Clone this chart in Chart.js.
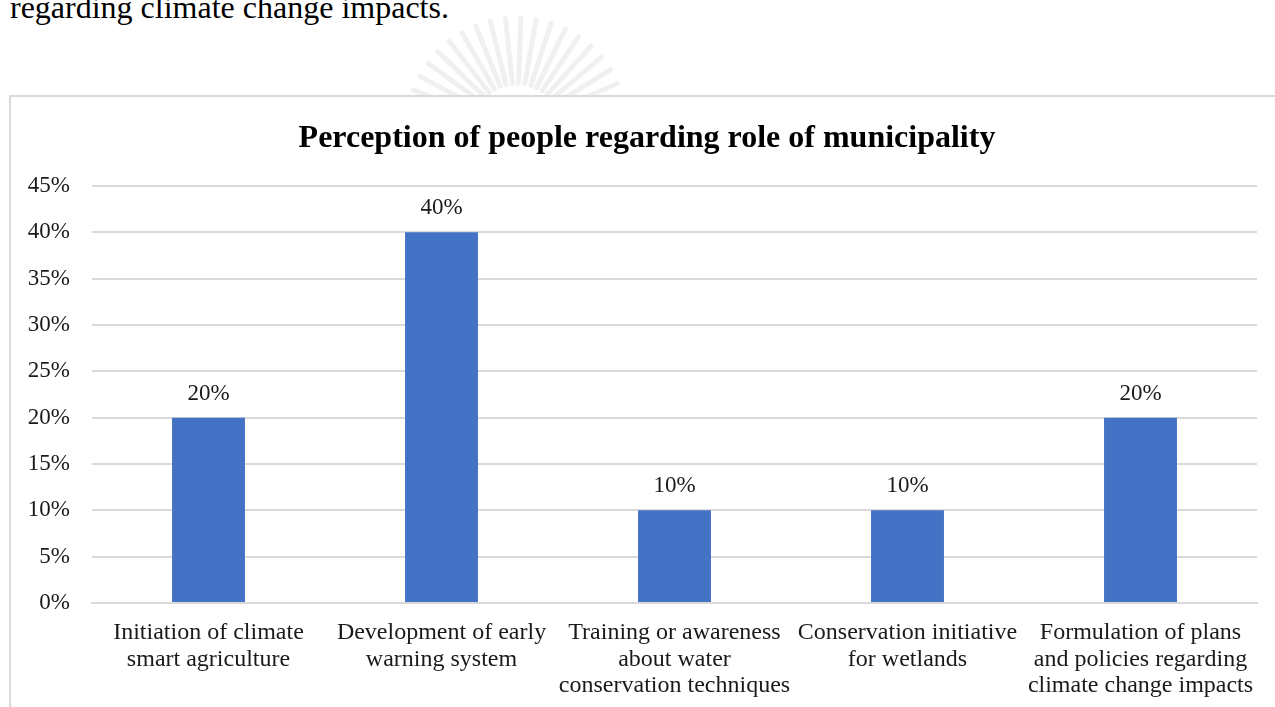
<!DOCTYPE html>
<html>
<head>
<meta charset="utf-8">
<script src="https://cdn.jsdelivr.net/npm/chart.js@4"></script>
<style>
	body { margin: 0; background: #fff; overflow: hidden; }
	#above {
		position: absolute; left: 10px; top: -11px;
		font-family: "Liberation Serif", "Times New Roman", serif;
		font-size: 32px; color: #000; white-space: nowrap;
	}
	#mark { position: absolute; left: 0; top: 0; }
	#box {
		position: absolute; left: 9px; top: 95px; width: 1300px; height: 700px;
		border: 2px solid #d9d9d9; background: #fff;
	}
	#wrap { position: absolute; left: 0; top: 0; width: 1275px; height: 707px; }
</style>
</head>
<body>
<div id="above">regarding climate change impacts.</div>
<canvas id="mark" width="1275" height="110"></canvas>
<div id="box"></div>
<div id="wrap"><canvas id="myChart"></canvas></div>
<script>
// chart data
const chartTitle = 'Perception of people regarding role of municipality';
const categories = [
	['Initiation of climate', 'smart agriculture'],
	['Development of early', 'warning system'],
	['Training or awareness', 'about water', 'conservation techniques'],
	['Conservation initiative', 'for wetlands'],
	['Formulation of plans', 'and policies regarding', 'climate change impacts']
];
const shares = [20, 40, 10, 10, 20];
const yTicks = [0, 5, 10, 15, 20, 25, 30, 35, 40, 45];

const serif = '"Liberation Serif", "Times New Roman", serif';

// faint watermark behind the chart box (page decoration)
(function() {
	const m = document.getElementById('mark').getContext('2d');
	m.strokeStyle = '#f0f0f0';
	m.lineWidth = 5;
	m.lineCap = 'round';
	for (let a = 200; a <= 340; a += 8) {
		const r = a * Math.PI / 180;
		m.beginPath();
		m.moveTo(517 + Math.cos(r) * 45, 128 + Math.sin(r) * 45);
		m.lineTo(517 + Math.cos(r) * 110, 128 + Math.sin(r) * 110);
		m.stroke();
	}
})();

// title centred on the chart frame, and the value above each bar
const barLabels = {
	id: 'barLabels',
	afterDraw(chart) {
		const ctx = chart.ctx;
		ctx.save();
		ctx.fillStyle = '#000';
		ctx.textAlign = 'center';
		ctx.textBaseline = 'middle';
		ctx.font = 'bold 32px ' + serif;
		ctx.fillText(chartTitle, (chart.width + 19) / 2, 139);

		const meta = chart.getDatasetMeta(0);
		ctx.font = '23px ' + serif;
		ctx.fillStyle = '#1a1a1a';
		meta.data.forEach(function(bar, i) {
			ctx.fillText(shares[i] + '%', bar.x, bar.y - 24);
		});
		ctx.restore();
	}
};

const ctx = document.getElementById('myChart').getContext('2d');
const myChart = new Chart(ctx, {
	type: 'bar',
	data: {
		labels: categories,
		datasets: [{
			label: 'Share',
			data: shares,
			backgroundColor: '#4472C4',
			categoryPercentage: 1,
			barPercentage: 0.313
		}]
	},
	options: {
		responsive: true,
		maintainAspectRatio: false,
		animation: false,
		layout: { padding: { left: 0, right: 18, top: 186, bottom: 0 } },
		plugins: {
			legend: { display: false },
			tooltip: { enabled: false },
			title: { display: false }
		},
		scales: {
			x: {
				grid: { display: false },
				border: { display: true, color: '#d9d9d9', width: 2 },
				ticks: {
					color: '#1a1a1a',
					font: { family: serif, size: 24, lineHeight: 1.12 },
					maxRotation: 0,
					autoSkip: false,
					padding: 8
				},
				afterFit(scale) { scale.height = 104; }
			},
			y: {
				min: 0,
				max: 45,
				afterBuildTicks(scale) {
					scale.ticks = yTicks.map(function(v) { return { value: v }; });
				},
				grid: { color: '#d9d9d9', lineWidth: 2, drawTicks: false },
				border: { display: false },
				ticks: {
					color: '#1a1a1a',
					font: { family: serif, size: 23 },
					padding: 22,
					callback: function(v) { return v + '%'; }
				},
				afterFit(scale) { scale.width = 92; }
			}
		}
	},
	plugins: [barLabels]
});
</script>
</body>
</html>
